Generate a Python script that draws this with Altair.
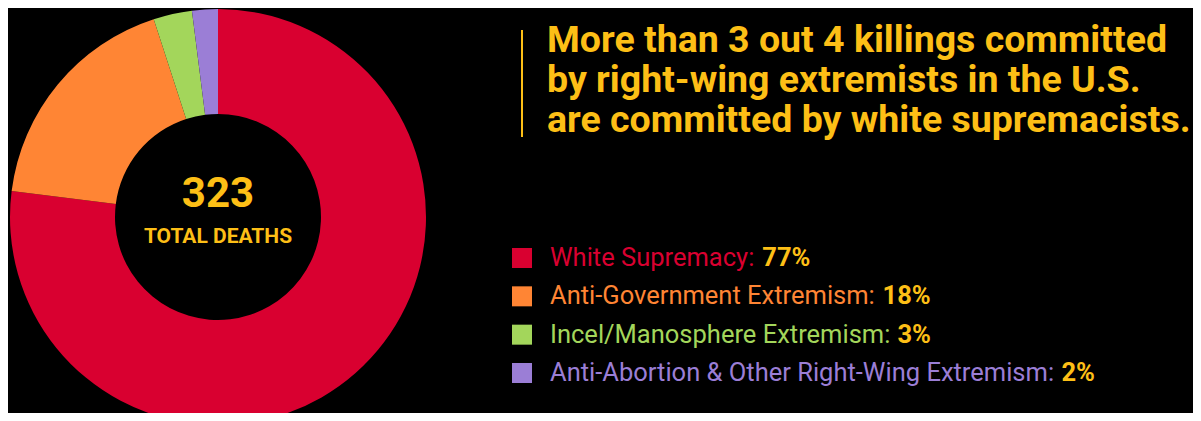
import altair as alt
import pandas as pd

# ---- data ----
categories = [
    "White Supremacy",
    "Anti-Government Extremism",
    "Incel/Manosphere Extremism",
    "Anti-Abortion & Other Right-Wing Extremism",
]
shares = [77, 18, 3, 2]
pct_labels = ["77%", "18%", "3%", "2%"]
colors = ["#D90030", "#FF8534", "#A3D65B", "#9B7ED6"]
total_deaths = "323"
center_label = "TOTAL DEATHS"
title_lines = [
    "More than 3 out 4 killings committed",
    "by right-wing extremists in the U.S.",
    "are committed by white supremacists.",
]

YELLOW = "#FDBF16"
FONT = "Roboto"
LEG_SIZE = 25.5

# approximate Roboto Regular advance widths (units per 2048 em), used only to
# place the bold percentage right after each coloured legend label
ADV = {
    " ": 507, "a": 1089, "b": 1122, "c": 1045, "d": 1126, "e": 1058, "f": 694,
    "g": 1122, "h": 1103, "i": 486, "j": 477, "k": 1014, "l": 486, "m": 1752,
    "n": 1105, "o": 1140, "p": 1122, "q": 1133, "r": 678, "s": 1031, "t": 654,
    "u": 1103, "v": 968, "w": 1503, "x": 991, "y": 946, "z": 991, "A": 1336,
    "G": 1395, "E": 1164, "I": 557, "M": 1747, "O": 1376, "R": 1260, "S": 1217,
    "W": 1818, "&": 1271, "/": 845, "-": 552, ":": 483,
}


def est_width(s, size):
    return sum(ADV.get(ch, 1100) for ch in s) * size / 2048.0 * 1.018


label_text = [c + ":" for c in categories]
df = pd.DataFrame(
    {
        "category": categories,
        "share": shares,
        "idx": list(range(len(categories))),
        "label": label_text,
        "pct": pct_labels,
        "pct_x": [542 + est_width(t, LEG_SIZE) + 8 for t in label_text],
    }
)

color_scale = alt.Scale(domain=categories, range=colors)
row_scale = alt.Scale(domain=categories, range=[250, 365], padding=0)

base = alt.Chart(df)

donut = base.mark_arc(outerRadius=208, innerRadius=103, stroke=None).encode(
    theta=alt.Theta("share:Q", stack=True),
    color=alt.Color("category:N", scale=color_scale, legend=None),
    order=alt.Order("idx:Q", sort="ascending"),
    x=alt.value(210),
    y=alt.value(209),
)

center_num = base.transform_filter("datum.idx == 0").mark_text(
    text=total_deaths, font=FONT, fontWeight="bold", fontSize=42,
    color=YELLOW, align="center", baseline="alphabetic"
).encode(x=alt.value(210), y=alt.value(199))

center_txt = base.transform_filter("datum.idx == 0").mark_text(
    text=center_label, font=FONT, fontWeight="bold", fontSize=21,
    color=YELLOW, align="center", baseline="alphabetic"
).encode(x=alt.value(210), y=alt.value(235))

title = base.transform_filter("datum.idx == 0").mark_text(
    text=title_lines, font=FONT, fontWeight="bold", fontSize=37.5, lineHeight=40,
    color=YELLOW, align="left", baseline="alphabetic"
).encode(x=alt.value(539), y=alt.value(44))

bar = base.transform_filter("datum.idx == 0").mark_rule(
    color=YELLOW, strokeWidth=2
).encode(x=alt.value(514), y=alt.value(22), y2=alt.value(129))

squares = base.mark_square(size=400, filled=True, opacity=1, strokeWidth=0).encode(
    x=alt.value(514),
    y=alt.Y("category:N", scale=row_scale, axis=None),
    color=alt.Color("category:N", scale=color_scale, legend=None),
)

labels = base.mark_text(
    font=FONT, fontSize=LEG_SIZE, align="left", baseline="middle"
).encode(
    x=alt.value(542),
    y=alt.Y("category:N", scale=row_scale, axis=None),
    text="label:N",
    color=alt.Color("category:N", scale=color_scale, legend=None),
)

pcts = base.mark_text(
    font=FONT, fontSize=LEG_SIZE, fontWeight="bold", align="left",
    baseline="middle", color=YELLOW
).encode(
    x=alt.X("pct_x:Q", scale=None, axis=None),
    y=alt.Y("category:N", scale=row_scale, axis=None),
    text="pct:N",
)

chart = (
    alt.layer(donut, center_num, center_txt, bar, title, squares, labels, pcts)
    .properties(width=1185, height=405, padding=0, autosize="none", background="#000000")
    .configure_view(stroke=None)
)

chart.save("out.html", embed_options={"renderer": "svg", "actions": False})
